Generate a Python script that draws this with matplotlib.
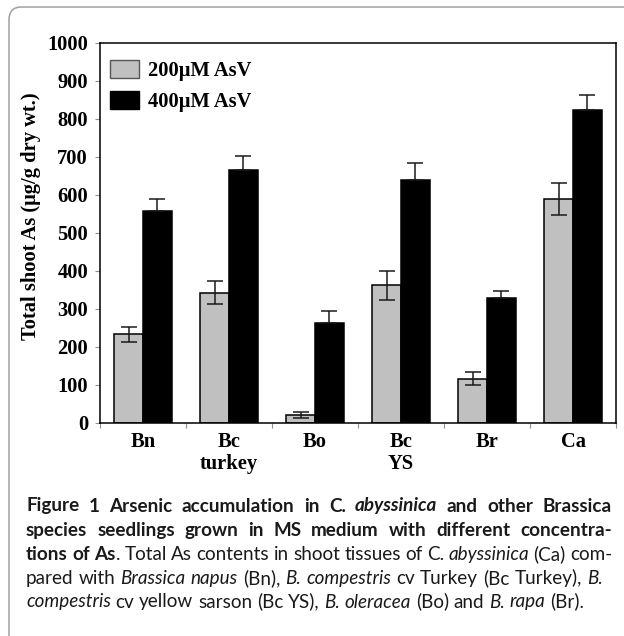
import matplotlib
matplotlib.use('Agg')
import matplotlib.pyplot as plt
from matplotlib.patches import Patch, FancyBboxPatch
import numpy as np

# data
categories = ['Bn', 'Bc\nturkey', 'Bo', 'Bc\nYS', 'Br', 'Ca']
as200 = [233, 343, 21, 362, 117, 590]
as200_err = [20, 31, 7, 37, 18, 42]
as400 = [559, 667, 264, 640, 330, 825]
as400_err = [30, 36, 30, 45, 18, 37]
series_labels = ['200\u03bcM AsV', '400\u03bcM AsV']
yticks = list(range(0, 1001, 100))
ylabel = 'Total shoot As (\u03bcg/g dry wt.)'

# caption: (text, weight, style) pieces per printed line
B, N, I = 'bold', 'normal', 'italic'
caption = [
    [("Figure 1 Arsenic accumulation in C. ", B, N), ("abyssinica", B, I),
     (" and other Brassica", B, N)],
    [("species seedlings grown in MS medium with different concentra-", B, N)],
    [("tions of As", B, N), (". Total As contents in shoot tissues of C. ", N, N),
     ("abyssinica", N, I), (" (Ca) com-", N, N)],
    [("pared with ", N, N), ("Brassica napus", N, I), (" (Bn), ", N, N),
     ("B. compestris", N, I), (" cv Turkey (Bc Turkey), ", N, N), ("B.", N, I)],
    [("compestris", N, I), (" cv yellow sarson (Bc YS), ", N, N),
     ("B. oleracea", N, I), (" (Bo) and ", N, N), ("B. rapa", N, I), (" (Br).", N, N)],
]

W, H = 624, 636
fig = plt.figure(figsize=(W / 100, H / 100), dpi=100)


def fx(px):
    return px / W


def fy(py):
    return 1 - py / H


# rounded frame, right/bottom edges run off the picture
frame = FancyBboxPatch((fx(9), fy(660)), fx(700), fy(7) - fy(660),
                       boxstyle='round,pad=0,rounding_size=0.02',
                       transform=fig.transFigure, facecolor='none',
                       edgecolor='#a0a0a0', linewidth=1.1, clip_on=False)
fig.patches.append(frame)

serif = {'family': 'Liberation Serif', 'weight': 'bold', 'size': 14.8}

ax = fig.add_axes([fx(100), fy(423), (616 - 100) / W, (423 - 43) / H])
x = np.arange(len(categories))
w = 0.337
ekw = dict(elinewidth=1.1, capthick=1.1, ecolor='#1a1a1a')
ax.bar(x - w / 2, as200, w, color='#c0c0c0', edgecolor='black', linewidth=1.1,
       yerr=as200_err, capsize=5.5, error_kw=ekw)
# only the upper whisker shows above the black bars
ax.bar(x + w / 2, as400, w, color='black', edgecolor='black', linewidth=1.1,
       yerr=[np.zeros(len(as400_err)), as400_err], capsize=5.5, error_kw=ekw)

ax.set_xlim(-0.5, len(categories) - 0.5)
ax.set_ylim(0, 1000)
ax.set_yticks(yticks)
ax.set_yticklabels([str(v) for v in yticks], fontdict=serif)
ax.set_xticks(x)
ax.set_xticklabels(categories, fontdict=serif, linespacing=1.1)
ax.set_xticks(np.arange(-0.5, len(categories), 1), minor=True)
ax.tick_params(axis='x', which='major', length=0, pad=6.5)
ax.tick_params(axis='x', which='minor', length=3.5, width=0.8, color='#909090')
ax.tick_params(axis='y', length=3.6, width=0.8, color='#909090', pad=5.0)
for s in ax.spines.values():
    s.set_linewidth(1.1)
    s.set_color('black')

ax.set_ylabel(ylabel, fontdict=serif)
ax.yaxis.set_label_coords(-0.114, 0.545)

handles = [Patch(facecolor='#c0c0c0', edgecolor='#555555', linewidth=1.0),
           Patch(facecolor='black', edgecolor='black', linewidth=1.0)]
ax.legend(handles, series_labels, loc='upper left', bbox_to_anchor=(0.0194, 0.955),
          frameon=False, borderpad=0, borderaxespad=0, handlelength=1.4,
          handleheight=0.95, handletextpad=0.45, labelspacing=0.5, prop=serif)

# caption, justified like the journal page
renderer = fig.canvas.get_renderer()
left = 26
line_right = [612, 612, 612, 603, 591]
baselines = [511.5, 536, 560, 584, 607.5]
cap_family = 'Lato'
cap_color = '#1a1a1a'
space_em = 0.25


def split_words(segs):
    words = [[]]
    for txt, fw, fs in segs:
        for k, part in enumerate(txt.split(' ')):
            if k > 0:
                words.append([])
            if part:
                words[-1].append((part, fw, fs))
    return [wd for wd in words if wd]


def word_width(wd, size):
    total = 0
    for part, fw, fs in wd:
        t = fig.text(0, 0, part, weight=fw, style=fs, family=cap_family, size=size)
        total += t.get_window_extent(renderer).width
        t.remove()
    return total


# largest size at which every line still fits its measure with plain spaces
ref_size = 12.0
fits = []
for segs, rr in zip(caption, line_right):
    wds = split_words(segs)
    ww = sum(word_width(wd, ref_size) for wd in wds)
    nat = ww + (len(wds) - 1) * space_em * ref_size * 100 / 72
    fits.append(ref_size * (rr - left) / nat)
cap_size = min(fits)

for i, (segs, base, rr) in enumerate(zip(caption, baselines, line_right)):
    placed = []
    for wd in split_words(segs):
        pieces = []
        width = 0
        for part, fw, fs in wd:
            t = fig.text(0, 0, part, weight=fw, style=fs, va='baseline', ha='left',
                         family=cap_family, size=cap_size, color=cap_color)
            pieces.append((t, width))
            width += t.get_window_extent(renderer).width
        placed.append((pieces, width))
    total = sum(p[1] for p in placed)
    if i == len(caption) - 1:
        gap = space_em * cap_size * 100 / 72
    else:
        gap = (rr - left - total) / (len(placed) - 1)
    xc = left
    for pieces, width in placed:
        for t, off in pieces:
            t.set_position((fx(xc + off), fy(base)))
        xc += width + gap

fig.savefig('out.png', dpi=100)
